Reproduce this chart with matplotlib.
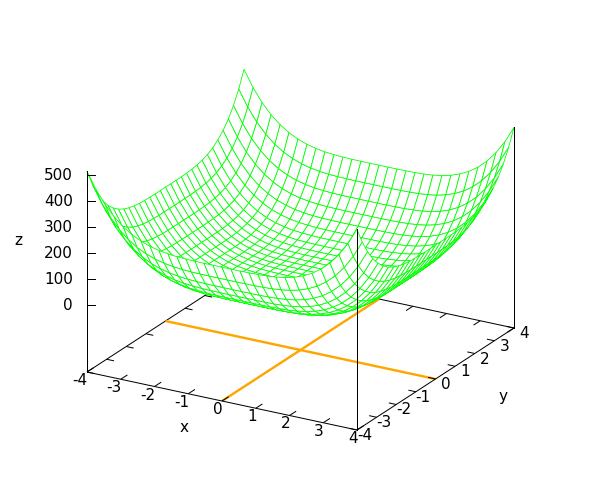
import matplotlib
matplotlib.use("Agg")
import matplotlib.pyplot as plt
from matplotlib.collections import PolyCollection
import numpy as np

x_ticks = [-4, -3, -2, -1, 0, 1, 2, 3, 4]
y_ticks = [-4, -3, -2, -1, 0, 1, 2, 3, 4]
z_ticks = [0, 100, 200, 300, 400, 500]
z_top = 512.0
# Height contribution of one coordinate along the 31 grid lines of each axis
half_profile = [256.0, 194.3, 144.4, 104.9, 74.0, 50.6, 33.2, 20.7, 12.1, 6.55,
                3.16, 1.30, 0.41, 0.08, 0.005, 0.0]
grid_profile = half_profile + half_profile[-2::-1]

GREEN = "#00ff00"
ORANGE = "#ffa500"
BLACK = "#000000"
PX = 0.72
FS = 11

X0, Y0 = 87.0, 372.0
XD = (270.0 / 8, 58.0 / 8)
YD = (157.0 / 8, -102.0 / 8)
ZS = 0.261
ZOFF = 67.0


def proj(x, y, z=None):
    """Map data to figure pixels; z=None means the base plane."""
    x = np.asarray(x, float)
    y = np.asarray(y, float)
    sx = X0 + (x + 4) * XD[0] + (y + 4) * YD[0]
    sy = Y0 + (x + 4) * XD[1] + (y + 4) * YD[1]
    if z is not None:
        sy = sy - ZOFF - np.asarray(z, float) * ZS
    return sx, sy


def seg(ax, a, b, zo, color=BLACK, lw=1.0):
    sx, sy = proj([a[0], b[0]], [a[1], b[1]])
    ax.plot(sx, sy, color=color, lw=lw * PX, zorder=zo, solid_capstyle="butt")


fig = plt.figure(figsize=(6, 5), dpi=100)
ax = fig.add_axes([0, 0, 1, 1])
ax.set_xlim(0, 600)
ax.set_ylim(500, 0)
ax.axis("off")

# base: back edges with mirrored ticks, and the orange zero axes
seg(ax, (-4, -4), (-4, 4), 1)
seg(ax, (-4, 4), (4, 4), 1)
for t in x_ticks:
    seg(ax, (t, 4), (t, 3.66), 1)
for t in y_ticks:
    seg(ax, (-4, t), (-3.78, t), 1)
seg(ax, (0, -4), (0, 4), 2, ORANGE, 2.4)
seg(ax, (-4, 0), (4, 0), 2, ORANGE, 2.4)

# surface, painted back to front with white-filled cells
n = len(grid_profile)
gx = np.array([-4 + 8 * i / (n - 1) for i in range(n)])
P = np.array(grid_profile)
Z = P[:, None] + P[None, :]  # indexed [ix, iy]
GX, GY = np.meshgrid(gx, gx, indexing="ij")
SX, SY = proj(GX, GY, Z)
polys, depth = [], []
for i in range(n - 1):
    for j in range(n - 1):
        idx = [(i, j), (i + 1, j), (i + 1, j + 1), (i, j + 1)]
        polys.append([(SX[k], SY[k]) for k in idx])
        cx = np.mean([GX[k] for k in idx])
        cy = np.mean([GY[k] for k in idx])
        cz = np.mean([Z[k] for k in idx])
        depth.append(0.433 * cx / 8 - 0.75 * cy / 8 + 0.5 * cz * 0.0013)
order = np.argsort(depth)
ax.add_collection(PolyCollection([polys[k] for k in order], facecolors="white",
                                 edgecolors=GREEN, linewidths=0.8 * PX, zorder=3,
                                 antialiaseds=True))

# front edges, verticals and ticks
seg(ax, (-4, -4), (4, -4), 4)
seg(ax, (4, -4), (4, 4), 4)
for t in x_ticks:
    seg(ax, (t, -4), (t, -3.66), 4)
for t in y_ticks:
    seg(ax, (4, t), (3.78, t), 4)
for cx, cy in [(-4, -4), (4, -4), (4, 4)]:
    sx0, sy0 = proj(cx, cy)
    sx1, sy1 = proj(cx, cy, z_top)
    ax.plot([sx0, sx1], [sy0, sy1], color=BLACK, lw=PX, zorder=4)
for t in z_ticks:
    sx, sy = proj(-4, -4, t)
    ax.plot([sx, sx + 8], [sy, sy], color=BLACK, lw=PX, zorder=4)
    ax.text(sx - 14, sy - 0.5, str(t), ha="right", va="center_baseline", fontsize=FS, zorder=5)

for t in x_ticks:
    sx, sy = proj(t, -4)
    ax.text(sx + 0.8, sy + 7, str(t), ha="right", va="center_baseline", fontsize=FS, zorder=5)
for t in y_ticks:
    sx, sy = proj(4, t)
    ax.text(sx + 15, sy + 4, str(t), ha="right", va="center_baseline", fontsize=FS, zorder=5)

ax.text(184, 426, "x", ha="center", va="center_baseline", fontsize=FS)
ax.text(503, 395, "y", ha="center", va="center_baseline", fontsize=FS)
ax.text(18, 239, "z", ha="center", va="center_baseline", fontsize=FS)

fig.savefig("out.png", dpi=100)
